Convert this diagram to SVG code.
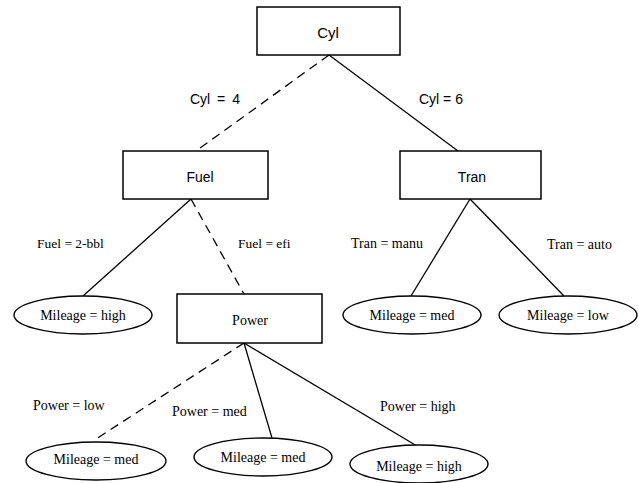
<svg xmlns="http://www.w3.org/2000/svg" width="639" height="483" viewBox="0 0 639 483">
<style>
.box{fill:#fff;stroke:#000;stroke-width:1.5}
.leaf{fill:#fff;stroke:#000;stroke-width:1.4}
.e{stroke:#000;stroke-width:1.3;fill:none}
.d{stroke-dasharray:9,6}
.s{font-family:"Liberation Sans",Arial,sans-serif;font-size:14px;fill:#000;text-anchor:middle}
.t{font-family:"Liberation Serif","Times New Roman",serif;font-size:14px;fill:#000;text-anchor:middle}
.l{font-family:"Liberation Serif","Times New Roman",serif;font-size:14px;fill:#000}
</style>
<rect width="639" height="483" fill="#fff"/>
<g id="connectors">
<line class="e d" x1="329" y1="55" x2="196" y2="151"/>
<line class="e" x1="329" y1="55" x2="458" y2="151"/>
<line class="e" x1="191" y1="199" x2="83" y2="296"/>
<line class="e d" x1="191" y1="199" x2="244" y2="294"/>
<line class="e" x1="470" y1="199" x2="411" y2="296"/>
<line class="e" x1="470" y1="199" x2="564" y2="296"/>
<line class="e d" x1="244" y1="343" x2="93" y2="441"/>
<line class="e" x1="244" y1="343" x2="272" y2="438"/>
<line class="e" x1="244" y1="343" x2="417" y2="446"/>
<text class="s" x="190" y="104" style="text-anchor:start;word-spacing:3px">Cyl = 4</text>
<text class="s" x="419" y="104" style="text-anchor:start">Cyl = 6</text>
<text class="l" x="37" y="248" style="font-size:13.5px">Fuel = 2-bbl</text>
<text class="l" x="238" y="248" style="font-size:13.5px">Fuel = efi</text>
<text class="l" x="351" y="248">Tran = manu</text>
<text class="l" x="547" y="249">Tran = auto</text>
<text class="l" x="33" y="410">Power = low</text>
<text class="l" x="172" y="416">Power = med</text>
<text class="l" x="380" y="411">Power = high</text>
</g>
<g id="cyl"><rect class="box" x="257" y="7" width="143" height="48"/><text class="s" x="328" y="38" style="font-size:15px">Cyl</text></g>
<g id="fuel"><rect class="box" x="123" y="151" width="145" height="48"/><text class="s" x="200" y="182">Fuel</text></g>
<g id="tran"><rect class="box" x="400" y="151" width="141" height="48"/><text class="s" x="472" y="182">Tran</text></g>
<g id="power"><rect class="box" x="177" y="294" width="145" height="49"/><text class="t" x="250" y="325">Power</text></g>
<g id="leaf-fuel-2bbl"><ellipse class="leaf" cx="83" cy="315" rx="69" ry="19"/><text class="t" x="83" y="320">Mileage = high</text></g>
<g id="leaf-tran-manu"><ellipse class="leaf" cx="412" cy="315" rx="69" ry="19"/><text class="t" x="412" y="320">Mileage = med</text></g>
<g id="leaf-tran-auto"><ellipse class="leaf" cx="568" cy="315" rx="69" ry="19"/><text class="t" x="568" y="320">Mileage = low</text></g>
<g id="leaf-power-low"><ellipse class="leaf" cx="96" cy="461" rx="70" ry="19"/><text class="t" x="96" y="464">Mileage = med</text></g>
<g id="leaf-power-med"><ellipse class="leaf" cx="263" cy="457" rx="69" ry="19"/><text class="t" x="263" y="462">Mileage = med</text></g>
<g id="leaf-power-high"><ellipse class="leaf" cx="419" cy="464" rx="69" ry="19"/><text class="t" x="419" y="471">Mileage = high</text></g>
</svg>
